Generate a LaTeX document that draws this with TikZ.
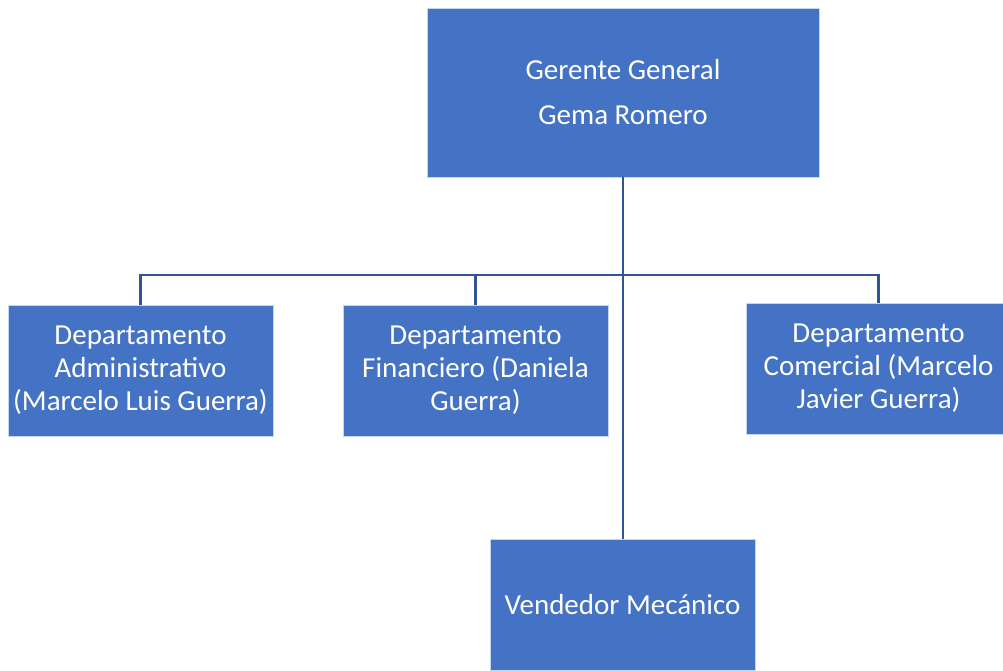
\documentclass[tikz,border=0pt]{standalone}
\usepackage{fontspec}
\setmainfont{Carlito}
\usepackage{tikz}
\usepackage{xcolor}
\usetikzlibrary{positioning, calc}
\definecolor{boxblue}{RGB}{68,114,196}
\definecolor{lineblue}{RGB}{50,84,150}
\tikzset{orgbox/.style={rectangle, draw=white!70!boxblue, line width=0.8pt, fill=boxblue, text=white, align=center, inner sep=0pt, font=\fontsize{29}{33}\selectfont}}
\tikzset{orgline/.style={draw=lineblue, line width=2.2pt}}

\begin{document}
\begin{tikzpicture}[x=1pt, y=-1pt]
    \useasboundingbox (0, 0) rectangle (1003, 670);

    \node[orgbox, minimum width=392pt, minimum height=169pt] (gg) at (623, 92.5) {Gerente General\\[12pt]Gema Romero};
    \node[orgbox, minimum width=265pt, minimum height=131pt] (adm) at (140.5, 370.5) {Departamento\\Administrativo\\(Marcelo Luis Guerra)};
    \node[orgbox, minimum width=265pt, minimum height=131pt] (fin) at (475.5, 370.5) {Departamento\\Financiero (Daniela\\Guerra)};
    \node[orgbox, minimum width=265pt, minimum height=131pt] (com) at (878.5, 368.5) {Departamento\\Comercial (Marcelo\\Javier Guerra)};
    \node[orgbox, minimum width=265pt, minimum height=131pt] (vm) at (622.5, 604.5) {Vendedor Mec\'anico};

    \coordinate (j) at (623, 275);

    \draw[orgline]
    (gg.south) -- (gg.south |- vm.north)
    (adm.north) |- (j)
    (fin.north) |- (j)
    (com.north) |- (j);
\end{tikzpicture}
\end{document}
